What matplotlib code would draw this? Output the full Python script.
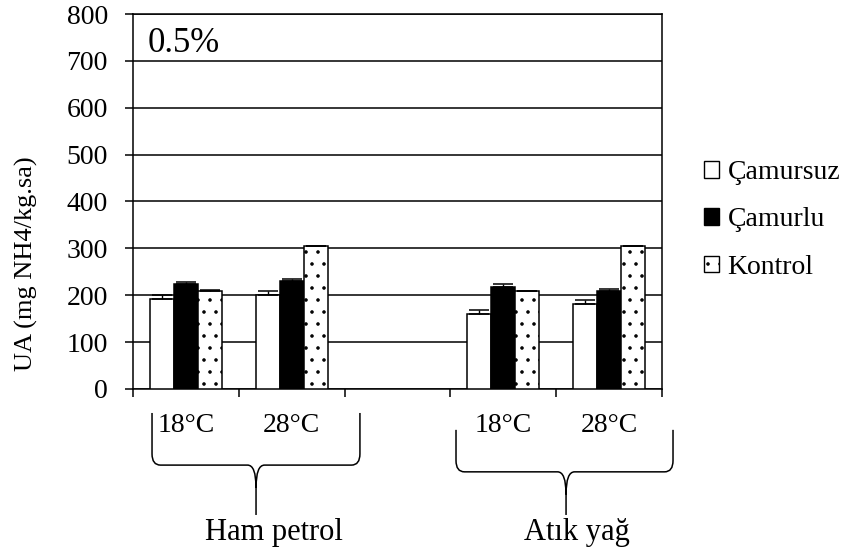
import numpy as np
import matplotlib
matplotlib.use("Agg")
import matplotlib.pyplot as plt
from matplotlib.patches import Patch, PathPatch
from matplotlib.path import Path
import matplotlib.transforms as mtransforms

# hatch tile size follows dpi, so draw at 72 dpi and scale point sizes
DPI = 72
S = 100 / DPI

plt.rcParams['font.family'] = ['Liberation Serif', 'DejaVu Serif']
plt.rcParams['hatch.color'] = '#333333'
plt.rcParams['hatch.linewidth'] = 0.8 * S

# Data
sicaklik = ["18°C", "28°C", "", "18°C", "28°C"]
gruplar = ["Ham petrol", "Atık yağ"]
konum = [0, 1, 3, 4]
camursuz = [192, 200, 160, 182]
camursuz_hata = [8, 8, 8, 8]
camurlu = [223, 230, 218, 208]
camurlu_hata = [5, 5, 7, 6]
kontrol = [210, 305, 209, 305]
kontrol_hata = [1, 1, 1, 1]
yticks = [0, 100, 200, 300, 400, 500, 600, 700, 800]

fig = plt.figure(figsize=(847 / DPI, 556 / DPI), dpi=DPI)
ax = fig.add_axes([0.157, 0.3004, 0.6246, 0.6744])

x = np.array(konum, dtype=float)
w = 0.227
lw = 1.1 * S
hata_stil = dict(ecolor='black', elinewidth=1.0 * S, capsize=7 * S,
                 capthick=1.1 * S)

ax.bar(x - w, camursuz, w, color='white', edgecolor='black', linewidth=lw,
       yerr=[[0] * 4, camursuz_hata], error_kw=hata_stil, zorder=3)
ax.bar(x, camurlu, w, color='black', edgecolor='black', linewidth=lw,
       yerr=[[0] * 4, camurlu_hata], error_kw=hata_stil, zorder=3)
ax.bar(x + w, kontrol, w, color='white', edgecolor='black', linewidth=lw,
       hatch='.', yerr=[[0] * 4, kontrol_hata], error_kw=hata_stil, zorder=3)

# Axes
ax.set_xlim(-0.5, 4.5)
ax.set_ylim(0, 800)
ax.set_yticks(yticks)
ax.yaxis.grid(True, color='black', linewidth=lw)
ax.set_axisbelow(True)
for s in ax.spines.values():
    s.set_linewidth(lw)
ax.tick_params(axis='y', direction='out', length=6 * S, width=lw, pad=12 * S,
               labelsize=20 * S)
ax.set_xticks(np.arange(-0.5, 5.0, 1.0))
ax.set_xticklabels([])
ax.tick_params(axis='x', which='major', direction='out', length=6 * S, width=lw)
ax.set_xticks(np.arange(5), minor=True)
ax.set_xticklabels(sicaklik, minor=True)
ax.tick_params(axis='x', which='minor', length=0, pad=17 * S, labelsize=20 * S)

ax.set_ylabel('UA (mg NH4/kg.sa)', fontsize=19 * S)
ax.yaxis.set_label_coords(-0.18, 0.335)

ax.text(0.028, 0.899, '0.5%', transform=ax.transAxes, fontsize=25 * S,
        va='baseline', ha='left')

# Curly braces under the groups
trans = mtransforms.blended_transform_factory(ax.transData, ax.transAxes)


def kume_parantez(x0, x1, xm, yt, yh, ytip):
    dx = 0.08
    dy = 0.03
    verts = [(x0, yt), (x0, yh + dy), (x0, yh), (x0 + dx, yh),
             (xm - dx, yh), (xm, yh), (xm, yh - 2 * dy), (xm, ytip),
             (x1, yt), (x1, yh + dy), (x1, yh), (x1 - dx, yh),
             (xm + dx, yh), (xm, yh), (xm, yh - 2 * dy)]
    codes = [Path.MOVETO, Path.LINETO, Path.CURVE3, Path.CURVE3,
             Path.LINETO, Path.CURVE3, Path.CURVE3, Path.LINETO,
             Path.MOVETO, Path.LINETO, Path.CURVE3, Path.CURVE3,
             Path.LINETO, Path.CURVE3, Path.CURVE3]
    p = PathPatch(Path(verts, codes), facecolor='none', edgecolor='black',
                  linewidth=lw, transform=trans, clip_on=False)
    ax.add_patch(p)


kume_parantez(-0.32, 1.645, 0.663, -0.064, -0.203, -0.336)
kume_parantez(2.553, 4.604, 3.593, -0.109, -0.221, -0.336)

ax.text(0.833, -0.403, gruplar[0], transform=trans, fontsize=22 * S,
        ha='center', va='baseline')
ax.text(3.697, -0.403, gruplar[1], transform=trans, fontsize=22 * S,
        ha='center', va='baseline')

# Legend
handles = [Patch(facecolor='white', edgecolor='black', linewidth=1.0 * S),
           Patch(facecolor='black', edgecolor='black', linewidth=1.0 * S),
           Patch(facecolor='white', edgecolor='black', linewidth=1.0 * S,
                 hatch='.')]
fig.legend(handles, ['Çamursuz', 'Çamurlu', 'Kontrol'], loc='center left',
           bbox_to_anchor=(704 / 847, 1 - 220 / 556), frameon=False,
           fontsize=20 * S, handlelength=0.55, handleheight=0.55,
           handletextpad=0.3, labelspacing=0.8, borderpad=0, borderaxespad=0)

fig.savefig('out.png', dpi=DPI)
